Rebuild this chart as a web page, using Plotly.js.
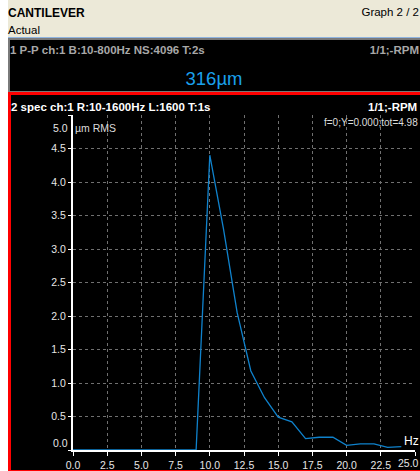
<!DOCTYPE html>
<html>
<head>
<meta charset="utf-8">
<script src="https://cdn.plot.ly/plotly-3.0.1.min.js"></script>
<style>
  html, body { margin:0; padding:0; width:420px; height:471px; overflow:hidden; background:#ffffff;
    font-family:"Liberation Sans",Arial,sans-serif; }
  .abs { position:absolute; line-height:1; white-space:nowrap; }
  #header { left:8px; top:0; width:412px; height:37px; background:#ece9d8; border-bottom:1px solid #8fb4e0; }
  #title1 { left:8px; top:7px; font-size:12px; font-weight:bold; color:#000; }
  #title2 { left:8px; top:25px; font-size:11.5px; color:#000; }
  #graphno { right:1px; top:7px; font-size:11.5px; color:#000; }
  #panel1 { left:8px; top:38px; width:410px; height:51px; background:#000; border:2px solid #7a7a7a; border-right:none; }
  #p1left { left:10px; top:45px; font-size:11.5px; font-weight:bold; color:#a8a8a8; }
  #p1right { right:1px; top:45px; font-size:11.5px; font-weight:bold; color:#a8a8a8; }
  #p1val { left:0; width:428px; text-align:center; top:70px; font-size:18.5px; color:#1aa0ec; }
  #panel2 { left:8px; top:92px; width:409px; height:375px; background:#000; border:3px solid #ff0000; }
  #plot { left:0; top:0; width:420px; height:471px; }
</style>
</head>
<body>
<div id="header" class="abs"></div>
<div id="title1" class="abs">CANTILEVER</div>
<div id="title2" class="abs">Actual</div>
<div id="graphno" class="abs">Graph 2 / 2</div>
<div id="panel1" class="abs"></div>
<div id="p1left" class="abs">1 P-P ch:1 B:10-800Hz NS:4096 T:2s</div>
<div id="p1right" class="abs">1/1;-RPM</div>
<div id="p1val" class="abs">316µm</div>
<div id="panel2" class="abs"></div>
<div id="plot" class="abs"></div>
<script>
// ---- data ----
const freqHz = [0, 1, 2, 3, 4, 5, 6, 7, 8, 9, 10, 11, 12, 13, 14, 15, 16, 17, 18, 19, 20, 21, 22, 23, 24];
const ampRMS = [0, 0, 0, 0, 0, 0, 0, 0, 0, 0, 4.40, 3.30, 2.05, 1.18, 0.78, 0.49, 0.42, 0.17, 0.19, 0.19, 0.07, 0.09, 0.09, 0.04, 0.05];
const xTickVals = [0, 2.5, 5, 7.5, 10, 12.5, 15, 17.5, 20, 22.5, 25];
const xTickText = ["0.0", "2.5", "5.0", "7.5", "10.0", "12.5", "15.0", "17.5", "20.0", "22.5", ""];
const yTickVals = [0, 0.5, 1, 1.5, 2, 2.5, 3, 3.5, 4, 4.5, 5];
const yTickText = ["", "0.5", "1.0", "1.5", "2.0", "2.5", "3.0", "3.5", "4.0", "4.5", ""];

const W = 420, H = 471;
const M = { l: 73, r: 5, t: 115, b: 21 };
const pw = W - M.l - M.r, ph = H - M.t - M.b;
const px = x => (x - M.l) / pw;          // pixel -> paper x
const py = y => (H - M.b - y) / ph;       // pixel -> paper y
const FONT = '"Liberation Sans",Arial,sans-serif';
const tickColor = '#e6e6e6';

const trace = {
  x: freqHz, y: ampRMS, type: 'scatter', mode: 'lines',
  line: { color: '#0f82cc', width: 1.3 }, hoverinfo: 'skip'
};

function ann(text, xpix, ypix, opts) {
  return Object.assign({
    text: text, xref: 'paper', yref: 'paper', x: px(xpix), y: py(ypix),
    showarrow: false, xanchor: 'left', yanchor: 'middle',
    font: { family: FONT, size: 10.5, color: tickColor }
  }, opts || {});
}

const layout = {
  width: W, height: H,
  margin: M,
  paper_bgcolor: 'rgba(0,0,0,0)',
  plot_bgcolor: '#000000',
  showlegend: false,
  font: { family: FONT, size: 10.5, color: tickColor },
  xaxis: {
    range: [0, 25], tickvals: xTickVals, ticktext: xTickText,
    showgrid: true, gridcolor: '#707070', griddash: 'dot', gridwidth: 1,
    showline: true, linecolor: '#ffffff', linewidth: 2,
    ticks: 'outside', ticklen: 4, tickcolor: '#ffffff', tickwidth: 1,
    zeroline: false, fixedrange: true,
    tickfont: { family: FONT, size: 10.5, color: tickColor }
  },
  yaxis: {
    range: [0, 5], tickvals: yTickVals, ticktext: yTickText,
    showgrid: true, gridcolor: '#707070', griddash: 'dot', gridwidth: 1,
    showline: true, linecolor: '#ffffff', linewidth: 2,
    ticks: 'outside', ticklen: 3, tickcolor: '#ffffff', tickwidth: 1,
    zeroline: false, fixedrange: true,
    tickfont: { family: FONT, size: 10.5, color: tickColor }
  },
  annotations: [
    ann('<b>2 spec ch:1 R:10-1600Hz L:1600 T:1s</b>', 9, 107, { font: { family: FONT, size: 11.5, color: '#ffffff' } }),
    ann('<b>1/1;-RPM</b>', 419, 107, { font: { family: FONT, size: 11.5, color: '#ffffff' }, xanchor: 'right' }),
    ann('f=0;Y=0.000;tot=4.98', 420, 122, { font: { family: FONT, size: 10, color: '#dcdcdc' }, xanchor: 'right' }),
    ann('µm RMS', 73, 128, { font: { family: FONT, size: 10.5, color: '#dcdcdc' } }),
    ann('5.0', 70, 128, { xanchor: 'right' }),
    ann('0.0', 70, 443, { xanchor: 'right' }),
    ann('Hz', 402, 441, { font: { family: FONT, size: 12, color: '#ffffff' } }),
    ann('25.0', 408, 463, { xanchor: 'center' })
  ]
};

Plotly.newPlot('plot', [trace], layout, { staticPlot: true, displayModeBar: false });
</script>
</body>
</html>
